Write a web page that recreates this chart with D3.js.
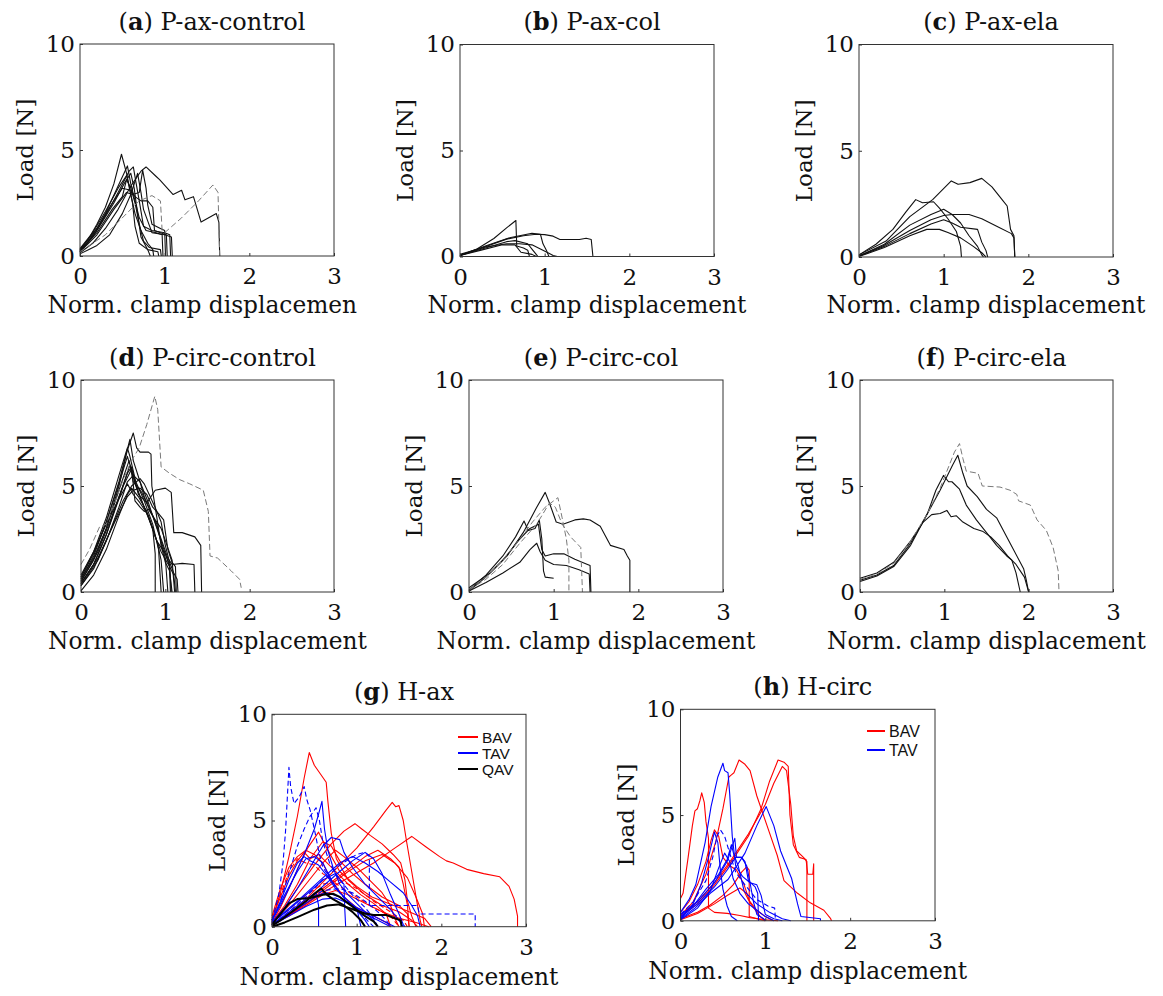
<!DOCTYPE html>
<html><head><meta charset="utf-8">
<script src="https://cdn.jsdelivr.net/npm/d3@7"></script>
<style>body{margin:0;background:#fff}</style>
</head><body>
<svg id="chart" width="1163" height="996"></svg>
<script>
// ---------- data (x = norm. clamp displacement, y = load [N]) ----------
const xTicks = [0, 1, 2, 3];
const yTicks = [0, 5, 10];

const aSolid = [
 [[0,0.3],[0.1,0.8],[0.2,1.5],[0.3,2.3],[0.4,3.4],[0.49,4.8],[0.55,3.9],[0.6,2.9],[0.65,2.0],[0.72,1.2],[0.8,0.6],[0.86,0.3],[0.87,0]],
 [[0,0.25],[0.1,0.7],[0.2,1.3],[0.3,2.0],[0.45,3.3],[0.56,4.25],[0.6,3.4],[0.65,2.6],[0.7,1.8],[0.78,1.2],[0.9,1.1],[0.97,1.0],[0.98,0]],
 [[0,0.2],[0.15,0.9],[0.3,1.9],[0.45,3.0],[0.58,4.0],[0.63,4.2],[0.66,3.5],[0.7,2.6],[0.75,1.4],[0.85,1.2],[1.0,1.1],[1.06,1.0],[1.07,0]],
 [[0,0.15],[0.15,0.6],[0.3,1.3],[0.45,2.2],[0.6,3.3],[0.72,4.0],[0.78,4.2],[0.9,3.75],[0.94,3.6],[1.02,3.25],[1.1,2.9],[1.2,3.1],[1.24,2.65],[1.34,2.8],[1.43,1.6],[1.61,2.0],[1.64,1.6],[1.65,0]],
 [[0,0.1],[0.1,0.3],[0.2,0.5],[0.35,1.0],[0.5,2.0],[0.6,2.9],[0.68,3.9],[0.72,3.0],[0.75,2.2],[0.85,1.1],[1.0,1.0],[1.08,0.9],[1.09,0]],
 [[0,0.35],[0.15,1.1],[0.3,2.1],[0.45,3.2],[0.55,3.8],[0.58,3.3],[0.62,2.5],[0.65,1.4],[0.7,0.6],[0.8,0.3],[0.83,0]],
 [[0,0.2],[0.2,1.2],[0.4,2.5],[0.52,3.4],[0.6,3.9],[0.64,3.2],[0.68,2.0],[0.72,0.9],[0.8,0.3],[0.92,0.2],[0.93,0]],
 [[0,0.3],[0.2,1.3],[0.35,2.3],[0.5,3.2],[0.6,3.1],[0.65,2.8],[0.72,2.6],[0.8,2.6],[0.86,2.3],[0.88,1.2],[0.95,1.1],[1.02,1.0],[1.03,0]],
 [[0,0.2],[0.2,1.0],[0.4,2.2],[0.55,3.0],[0.62,2.9],[0.7,3.0],[0.74,4.05],[0.78,3.2],[0.8,2.4],[0.85,1.5],[0.95,1.3],[1.0,1.2],[1.01,0]],
 [[0,0.25],[0.2,1.1],[0.38,2.2],[0.5,2.8],[0.55,3.6],[0.6,3.2],[0.65,2.5],[0.7,1.5],[0.75,0.7],[0.82,0.4],[0.95,0.3],[0.96,0]]
];
const aDashed = [
 [[0,0.2],[0.3,1.0],[0.55,2.0],[0.7,2.6],[0.85,2.85],[0.95,2.6],[0.97,1.2],[1.0,1.1],[1.2,1.8],[1.4,2.6],[1.57,3.35],[1.63,3.0],[1.65,0]]
];

const bSolid = [
 [[0,0.05],[0.2,0.35],[0.4,0.85],[0.55,1.35],[0.66,1.7],[0.67,0.5],[0.75,0.4],[0.8,0.3],[0.82,0]],
 [[0,0.05],[0.24,0.38],[0.55,0.82],[0.75,0.98],[0.9,1.05],[1.0,1.03],[1.1,0.96],[1.18,0.8],[1.41,0.8],[1.49,0.86],[1.55,0.8],[1.57,0]],
 [[0,0.05],[0.3,0.5],[0.6,0.9],[0.85,1.1],[0.95,1.05],[0.98,0.6],[1.02,0.3],[1.05,0]],
 [[0,0.05],[0.3,0.4],[0.55,0.7],[0.65,0.75],[0.8,0.6],[0.85,0.35],[0.9,0.1],[0.92,0]],
 [[0,0.1],[0.3,0.45],[0.55,0.6],[0.7,0.6],[0.85,0.55],[0.95,0.35],[1.05,0.15],[1.1,0.05],[1.15,0]],
 [[0,0.05],[0.25,0.3],[0.5,0.55],[0.65,0.55],[0.72,0.2],[0.85,0.1],[0.9,0]]
];

const cSolid = [
 [[0,0.1],[0.32,0.75],[0.6,1.9],[0.87,2.7],[1.09,3.58],[1.17,3.42],[1.31,3.5],[1.45,3.7],[1.57,3.3],[1.69,2.7],[1.75,2.4],[1.79,1.3],[1.83,1.0],[1.84,0]],
 [[0,0.1],[0.2,0.6],[0.4,1.3],[0.55,2.1],[0.67,2.7],[0.75,2.55],[0.88,2.6],[0.95,2.3],[1.05,1.8],[1.15,1.2],[1.2,0.5],[1.21,0]],
 [[0,0.05],[0.3,0.6],[0.6,1.5],[0.85,2.0],[1.0,2.25],[1.1,2.0],[1.2,1.6],[1.3,1.0],[1.4,0.5],[1.45,0.1],[1.47,0]],
 [[0,0.05],[0.3,0.55],[0.6,1.25],[0.85,1.75],[1.0,1.95],[1.1,2.0],[1.3,2.0],[1.45,1.8],[1.65,1.4],[1.8,1.1],[1.83,0.9],[1.84,0]],
 [[0,0.05],[0.3,0.5],[0.6,1.1],[0.85,1.55],[1.0,1.75],[1.1,1.6],[1.2,1.4],[1.4,1.3],[1.45,0.7],[1.5,0.3],[1.52,0]],
 [[0,0.02],[0.3,0.45],[0.6,1.0],[0.8,1.3],[0.95,1.3],[1.05,1.15],[1.2,0.9],[1.35,0.5],[1.45,0.2],[1.5,0]]
];

const dSolid = [
 [[0,0.5],[0.15,1.5],[0.3,3.0],[0.45,5.0],[0.55,6.7],[0.62,7.5],[0.66,6.8],[0.7,6.6],[0.8,6.6],[0.83,6.5],[0.84,5.0],[0.9,3.5],[0.95,2.2],[1.0,1.4],[1.05,1.0],[1.08,0]],
 [[0,0.4],[0.15,1.3],[0.3,2.7],[0.45,4.5],[0.55,5.6],[0.6,5.9],[0.68,4.6],[0.78,4.2],[0.88,4.8],[1.0,4.9],[1.07,4.7],[1.1,2.8],[1.2,2.8],[1.35,2.6],[1.42,2.2],[1.43,0]],
 [[0,0.3],[0.15,1.1],[0.3,2.4],[0.45,4.0],[0.55,5.2],[0.62,5.5],[0.7,5.2],[0.75,4.5],[0.85,3.6],[0.95,2.5],[1.03,1.6],[1.08,1.3],[1.2,1.35],[1.34,1.3],[1.35,0]],
 [[0,0.6],[0.15,1.7],[0.3,3.3],[0.45,5.2],[0.58,7.2],[0.62,6.2],[0.7,5.2],[0.8,4.2],[0.9,3.0],[1.0,1.8],[1.05,1.2],[1.1,0.8],[1.12,0]],
 [[0,0.7],[0.15,1.8],[0.3,3.3],[0.45,5.1],[0.55,6.4],[0.6,5.7],[0.7,4.5],[0.8,3.5],[0.9,2.4],[0.95,1.5],[0.97,0.5],[0.98,0]],
 [[0,0.4],[0.15,1.3],[0.3,2.7],[0.45,4.4],[0.58,6.0],[0.65,5.0],[0.75,4.0],[0.85,3.0],[0.88,1.8],[0.88,0]],
 [[0,0.5],[0.2,1.9],[0.35,3.4],[0.5,5.0],[0.6,5.8],[0.64,4.3],[0.7,4.0],[0.75,3.8],[0.8,3.9],[0.88,3.4],[0.95,3.0],[1.02,2.2],[1.08,1.5],[1.1,0.5],[1.11,0]],
 [[0,0.3],[0.2,1.5],[0.35,2.9],[0.5,4.3],[0.6,5.0],[0.7,5.35],[0.75,5.1],[0.82,4.5],[0.9,3.8],[0.95,3.3],[1.0,2.2],[1.05,1.4],[1.1,0.9],[1.14,0.6],[1.15,0]],
 [[0,0.8],[0.15,1.9],[0.3,3.2],[0.45,4.4],[0.55,5.1],[0.62,4.6],[0.7,4.2],[0.8,3.6],[0.9,2.4],[1.0,1.8],[1.05,1.3],[1.07,0]],
 [[0,0.05],[0.15,0.8],[0.3,2.0],[0.45,3.6],[0.55,4.6],[0.6,4.9],[0.68,4.5],[0.78,3.8],[0.88,2.6],[0.95,1.9],[1.02,1.4],[1.05,1.2],[1.06,0]],
 [[0,0.6],[0.15,1.6],[0.3,3.0],[0.45,4.8],[0.57,6.2],[0.62,5.2],[0.72,4.7],[0.8,4.0],[0.9,3.2],[0.95,2.3],[1.0,1.6],[1.03,0]],
 [[0,0.4],[0.2,1.6],[0.4,3.3],[0.55,4.5],[0.62,4.8],[0.7,4.9],[0.78,4.6],[0.85,4.0],[0.92,3.7],[0.98,3.4],[1.03,2.0],[1.08,1.4],[1.12,1.2],[1.13,0]],
 [[0,0.7],[0.15,1.9],[0.3,3.5],[0.45,5.5],[0.55,6.8],[0.58,6.4],[0.65,5.2],[0.75,4.3],[0.85,3.2],[0.92,2.0],[0.95,0]]
];
const dDashed = [
 [[0,1.3],[0.1,2.0],[0.22,3.07],[0.3,3.2],[0.4,4.2],[0.5,5.3],[0.6,6.2],[0.69,6.8],[0.78,7.9],[0.875,9.23],[0.91,8.6],[0.95,5.9],[1.05,5.6],[1.17,5.3],[1.29,5.1],[1.45,4.8],[1.51,3.8],[1.53,1.7],[1.62,1.6],[1.78,1.0],[1.88,0.6],[1.9,0.2]]
];

const eSolid = [
 [[0,0.2],[0.25,0.9],[0.45,1.7],[0.64,2.8],[0.8,4.0],[0.9,4.7],[0.95,4.2],[1.03,3.3],[1.11,3.2],[1.25,3.4],[1.35,3.45],[1.43,3.4],[1.55,3.1],[1.67,2.2],[1.83,2.0],[1.87,1.7],[1.9,1.5],[1.9,0]],
 [[0,0.1],[0.2,0.8],[0.4,1.7],[0.55,2.6],[0.65,3.35],[0.7,2.9],[0.78,3.0],[0.83,3.4],[0.86,2.5],[0.88,1.0],[0.9,0.7],[1.0,0.65]],
 [[0,0.05],[0.2,0.7],[0.4,1.5],[0.6,2.5],[0.72,3.0],[0.82,3.2],[0.86,2.0],[0.9,1.7],[1.0,1.8],[1.12,1.8],[1.25,1.55],[1.4,1.3],[1.43,1.25],[1.44,0]],
 [[0,0.05],[0.2,0.45],[0.4,0.9],[0.6,1.4],[0.72,2.0],[0.8,2.3],[0.84,1.9],[0.9,1.5],[1.0,1.3],[1.15,1.25],[1.3,1.05],[1.42,0.85],[1.43,0]]
];
const eDashed = [
 [[0,0.15],[0.2,0.7],[0.4,1.5],[0.6,2.5],[0.75,3.3],[0.9,4.0],[1.0,4.3],[1.05,4.45],[1.1,3.5],[1.15,2.5],[1.18,1.5],[1.18,0]],
 [[0,0.1],[0.2,0.6],[0.4,1.3],[0.6,2.3],[0.8,3.2],[0.95,4.2],[1.02,4.0],[1.1,3.2],[1.2,2.6],[1.32,2.1],[1.34,0]]
];

const fSolid = [
 [[0,0.55],[0.2,0.8],[0.4,1.25],[0.6,2.3],[0.8,3.7],[0.95,4.8],[1.05,5.6],[1.1,6.0],[1.16,6.45],[1.22,5.6],[1.27,5.0],[1.39,4.5],[1.5,3.9],[1.62,3.5],[1.78,2.3],[1.94,1.1],[1.97,0.6],[2.0,0]],
 [[0,0.5],[0.2,0.75],[0.4,1.2],[0.6,2.2],[0.8,3.7],[0.9,4.8],[0.99,5.5],[1.05,5.2],[1.09,5.2],[1.18,4.85],[1.26,4.1],[1.38,3.4],[1.5,2.8],[1.62,2.2],[1.74,1.7],[1.8,1.5],[1.85,0.9],[1.9,0]],
 [[0,0.65],[0.2,0.9],[0.4,1.4],[0.6,2.4],[0.75,3.3],[0.85,3.65],[0.95,3.7],[1.03,3.85],[1.08,3.55],[1.14,3.6],[1.22,3.3],[1.35,3.0],[1.46,2.85],[1.55,2.6],[1.65,2.2],[1.75,1.7],[1.85,1.3],[1.95,0.7],[2.0,0]]
];
const fDashed = [
 [[0,0.6],[0.2,0.85],[0.4,1.35],[0.6,2.4],[0.8,3.7],[0.95,4.9],[1.05,5.9],[1.12,6.6],[1.18,7.0],[1.22,6.3],[1.26,5.7],[1.4,5.6],[1.45,5.0],[1.66,4.95],[1.78,4.8],[1.86,4.6],[1.88,4.3],[2.02,4.1],[2.1,3.4],[2.21,2.9],[2.29,2.1],[2.35,1.0],[2.36,0]]
];

const gBAV = [
 [[0,0.3],[0.1,1.6],[0.2,3.3],[0.3,5.2],[0.38,7.0],[0.44,8.2],[0.5,7.6],[0.57,7.2],[0.64,6.8],[0.66,5.9],[0.7,4.4],[0.76,3.2],[0.9,2.2],[1.1,1.5],[1.3,1.0],[1.5,0.7],[1.65,0.3],[1.72,0]],
 [[0,0.1],[0.2,0.6],[0.4,1.3],[0.6,2.1],[0.8,2.9],[1.0,3.7],[1.2,4.7],[1.35,5.5],[1.42,5.85],[1.46,5.65],[1.5,5.7],[1.55,5.0],[1.59,4.0],[1.65,2.6],[1.71,1.2],[1.75,0.3],[1.77,0]],
 [[0,0.2],[0.15,0.9],[0.3,1.8],[0.5,2.9],[0.7,3.9],[0.85,4.5],[0.98,4.85],[1.06,4.6],[1.16,4.3],[1.3,3.9],[1.43,3.4],[1.52,3.0],[1.57,2.2],[1.6,1.2],[1.65,0.5],[1.7,0]],
 [[0,0.05],[0.3,0.8],[0.6,1.6],[0.9,2.3],[1.2,3.0],[1.45,3.7],[1.65,4.25],[1.82,3.75],[1.98,3.3],[2.06,3.1],[2.14,3.0],[2.3,2.7],[2.5,2.5],[2.69,2.35],[2.8,1.9],[2.86,1.3],[2.9,0.5],[2.9,0]],
 [[0,0.2],[0.1,0.9],[0.2,1.8],[0.3,2.7],[0.42,3.7],[0.55,4.45],[0.62,3.9],[0.8,2.6],[1.0,1.9],[1.18,1.4],[1.5,0.9],[1.8,0.4],[1.88,0]],
 [[0,0.2],[0.15,1.0],[0.3,2.0],[0.45,3.2],[0.6,4.0],[0.7,3.8],[0.8,3.1],[0.95,2.5],[1.1,2.0],[1.3,1.4],[1.5,1.0],[1.6,0.6],[1.62,0]],
 [[0,0.4],[0.1,1.4],[0.2,2.4],[0.3,3.1],[0.38,3.5],[0.45,3.2],[0.55,3.4],[0.65,3.0],[0.75,2.6],[0.9,2.0],[1.05,1.5],[1.2,1.1],[1.35,0.6],[1.4,0]],
 [[0,0.2],[0.2,1.0],[0.4,2.0],[0.6,3.0],[0.75,3.6],[0.85,3.3],[1.0,2.8],[1.15,2.2],[1.3,1.6],[1.4,1.0],[1.45,0.4],[1.5,0]],
 [[0,0.1],[0.3,0.9],[0.6,1.8],[0.9,2.7],[1.1,3.3],[1.25,3.6],[1.4,3.2],[1.5,2.8],[1.55,2.0],[1.6,1.0],[1.62,0]],
 [[0,0.1],[0.3,0.8],[0.6,1.7],[0.9,2.6],[1.1,3.1],[1.3,3.4],[1.45,3.0],[1.6,2.3],[1.7,1.4],[1.78,0.6],[1.8,0]],
 [[0,0.1],[0.2,0.5],[0.4,1.0],[0.6,1.5],[0.75,1.7],[0.9,1.5],[1.1,1.1],[1.3,0.7],[1.5,0.4],[1.7,0.2],[1.85,0]],
 [[0,0.5],[0.1,1.8],[0.2,2.8],[0.3,3.3],[0.4,3.6],[0.5,3.4],[0.6,3.0],[0.7,2.2],[0.85,1.4],[1.0,0.9],[1.2,0.5],[1.35,0.2],[1.4,0]]
];
const gBAVdash = [
 [[0,0.3],[0.1,1.5],[0.2,2.6],[0.3,3.2],[0.4,3.0],[0.5,2.9],[0.6,2.5],[0.8,1.9],[1.0,1.4],[1.2,0.9],[1.4,0.5],[1.5,0]],
 [[0,0.2],[0.2,0.8],[0.4,1.5],[0.6,2.0],[0.8,2.2],[1.0,1.8],[1.2,1.2],[1.4,0.7],[1.55,0.3],[1.6,0]]
];
const gTAV = [
 [[0,0.3],[0.1,1.0],[0.2,1.8],[0.3,2.7],[0.4,3.6],[0.5,4.6],[0.55,5.3],[0.59,5.9],[0.62,4.6],[0.66,3.6],[0.72,2.8],[0.8,2.0],[0.9,1.5],[1.0,1.1],[1.1,0.7],[1.2,0.3],[1.25,0]],
 [[0,0.2],[0.15,0.9],[0.3,1.8],[0.45,2.8],[0.6,3.8],[0.7,4.2],[0.8,4.1],[0.85,3.5],[0.95,2.8],[1.1,2.0],[1.25,1.4],[1.4,0.8],[1.5,0.3],[1.55,0]],
 [[0,0.1],[0.2,0.6],[0.4,1.2],[0.6,1.9],[0.8,2.6],[0.95,3.1],[1.1,3.5],[1.2,3.2],[1.3,2.5],[1.4,1.5],[1.5,0.6],[1.55,0.1],[1.57,0]],
 [[0,0.3],[0.1,1.2],[0.2,2.2],[0.3,3.0],[0.38,3.3],[0.45,3.1],[0.55,2.9],[0.65,2.4],[0.75,1.8],[0.9,1.2],[1.0,0.8],[1.1,0.3],[1.15,0]],
 [[0,0.2],[0.3,1.2],[0.6,2.3],[0.8,3.0],[0.95,3.3],[1.1,3.0],[1.25,2.6],[1.4,2.1],[1.55,1.6],[1.65,1.0],[1.72,0.5],[1.75,0]],
 [[0,0.1],[0.2,0.6],[0.4,1.1],[0.55,1.5],[0.65,1.6],[0.8,1.4],[0.95,1.0],[1.1,0.6],[1.25,0.3],[1.4,0]],
 [[0,0.05],[0.2,0.5],[0.4,0.95],[0.6,1.3],[0.75,1.35],[0.9,1.1],[1.05,0.8],[1.2,0.5],[1.35,0.2],[1.45,0]],
 [[0,0.1],[0.2,0.7],[0.4,1.3],[0.52,1.6],[0.55,1.0],[0.55,0]],
 [[0,0.2],[0.2,0.8],[0.4,1.5],[0.6,2.2],[0.75,2.5],[0.85,2.0],[0.86,0.8],[0.87,0]],
 [[0,0.3],[0.15,1.5],[0.3,2.6],[0.4,3.2],[0.5,3.3],[0.6,3.0],[0.7,2.2],[0.8,1.6],[0.9,1.2],[1.0,0.9],[1.05,0]]
];
const gTAVdash = [
 [[0,0.3],[0.08,1.5],[0.13,3.0],[0.16,4.5],[0.18,6.0],[0.2,7.5],[0.22,6.6],[0.26,5.8],[0.32,6.1],[0.38,6.6],[0.41,6.0],[0.45,5.5],[0.5,4.6],[0.55,3.6],[0.6,2.8],[0.7,2.2],[0.8,1.6],[0.95,0.9],[1.1,0.4],[1.2,0]],
 [[0,0.2],[0.1,1.2],[0.2,2.5],[0.3,3.8],[0.38,4.6],[0.45,5.2],[0.52,5.6],[0.56,5.0],[0.6,4.0],[0.68,3.0],[0.8,2.2],[0.95,1.5],[1.1,0.9],[1.2,0.4],[1.25,0]],
 [[0,0.1],[0.2,0.7],[0.4,1.4],[0.6,2.2],[0.8,2.9],[1.0,3.4],[1.1,3.5],[1.15,3.3],[1.15,1.0],[1.72,1.0],[1.74,0.6],[2.4,0.6],[2.4,0]],
 [[0,0.1],[0.2,0.6],[0.4,1.2],[0.6,1.7],[0.8,1.8],[0.95,1.6],[1.1,1.2],[1.25,0.7],[1.35,0.3],[1.4,0]]
];
const gQAV = [
 [[0,0.05],[0.1,0.3],[0.2,0.6],[0.3,0.9],[0.4,1.2],[0.5,1.55],[0.58,1.8],[0.65,1.5],[0.72,1.3],[0.85,1.0],[0.95,0.7],[1.05,0.3],[1.1,0]],
 [[0,0.1],[0.1,0.6],[0.2,1.1],[0.3,1.3],[0.45,1.35],[0.6,1.5],[0.72,1.55],[0.8,1.4],[0.9,1.1],[1.0,0.8],[1.1,0.5],[1.2,0.25],[1.25,0]],
 [[0,0],[0.15,0.2],[0.3,0.45],[0.5,0.8],[0.65,1.0],[0.78,1.05],[0.9,0.9],[1.0,0.75],[1.1,0.62],[1.2,0.55],[1.35,0.55],[1.45,0.4],[1.52,0.3],[1.53,0]]
];

const hBAV = [
 [[0,1.05],[0.03,1.3],[0.09,3.0],[0.14,4.5],[0.17,5.2],[0.2,5.3],[0.23,5.7],[0.25,6.05],[0.28,5.6],[0.3,4.7],[0.33,3.9],[0.33,0.6],[0.4,0.4],[0.55,0.35],[0.7,0.25],[0.82,0.15],[1.0,0.05],[1.15,0]],
 [[0,0.25],[0.15,0.9],[0.3,2.2],[0.42,3.8],[0.5,5.3],[0.57,6.8],[0.6,6.9],[0.63,7.0],[0.69,7.6],[0.76,7.4],[0.82,7.1],[0.9,5.9],[1.02,4.5],[1.14,3.1],[1.22,1.9],[1.38,1.3],[1.53,0.85],[1.69,0.5],[1.77,0.1],[1.78,0]],
 [[0,0.2],[0.2,0.8],[0.4,1.7],[0.6,2.8],[0.8,4.0],[0.95,5.3],[1.05,6.6],[1.15,7.6],[1.22,7.5],[1.27,7.3],[1.29,5.0],[1.33,3.6],[1.4,3.0],[1.48,2.9],[1.5,2.2],[1.56,2.2],[1.57,2.7],[1.57,0]],
 [[0,0.3],[0.2,0.9],[0.4,1.8],[0.6,2.9],[0.8,4.1],[1.0,5.5],[1.1,6.5],[1.2,7.3],[1.25,7.1],[1.3,5.5],[1.33,4.0],[1.37,3.3],[1.45,3.0],[1.49,2.8],[1.49,0]],
 [[0,0.4],[0.1,0.9],[0.2,1.7],[0.3,2.8],[0.36,3.8],[0.4,4.3],[0.45,4.0],[0.5,3.0],[0.58,2.6],[0.66,2.4],[0.75,1.7],[0.82,0.85],[0.94,0.2],[1.0,0]],
 [[0,0.1],[0.2,0.4],[0.35,0.75],[0.5,1.2],[0.62,1.7],[0.72,2.3],[0.78,2.55],[0.81,2.4],[0.81,0.2],[0.9,0.1],[1.0,0]],
 [[0,0.05],[0.2,0.35],[0.4,0.8],[0.55,1.2],[0.7,1.55],[0.75,1.4],[0.8,1.0],[0.9,0.5],[1.0,0.2],[1.1,0]]
];
const hTAV = [
 [[0,0.4],[0.1,1.0],[0.18,1.7],[0.29,3.7],[0.36,5.4],[0.44,6.8],[0.5,7.45],[0.52,7.1],[0.56,7.0],[0.58,6.0],[0.61,4.0],[0.65,2.6],[0.73,2.1],[0.82,1.8],[0.86,0.9],[0.9,0.3],[0.98,0.1],[1.0,0]],
 [[0,0.1],[0.17,0.6],[0.35,1.3],[0.56,1.95],[0.76,3.2],[0.9,4.5],[1.01,5.4],[1.1,4.5],[1.18,3.3],[1.26,2.5],[1.31,2.0],[1.38,0.8],[1.42,0.2],[1.65,0.1],[1.65,0]],
 [[0,0.1],[0.15,0.8],[0.25,1.8],[0.33,3.0],[0.4,4.2],[0.44,3.7],[0.47,2.4],[0.5,1.5],[0.55,0.7],[0.6,0.2],[0.67,0]],
 [[0,0.2],[0.2,0.9],[0.4,1.8],[0.55,2.8],[0.64,3.9],[0.66,3.0],[0.72,3.0],[0.76,2.8],[0.8,1.9],[0.88,1.6],[0.91,1.3],[0.92,0]],
 [[0,0.15],[0.2,0.8],[0.4,1.6],[0.55,2.4],[0.65,3.0],[0.72,3.0],[0.78,2.6],[0.82,1.8],[0.9,1.7],[0.95,1.2],[1.0,0.3],[1.1,0.1],[1.2,0]],
 [[0,0.05],[0.2,0.6],[0.35,1.4],[0.45,2.5],[0.52,3.2],[0.58,2.8],[0.62,2.0],[0.7,1.3],[0.8,0.8],[0.9,0.5],[1.0,0.2],[1.1,0]],
 [[0,0.3],[0.15,0.7],[0.3,1.5],[0.45,2.2],[0.55,2.9],[0.6,3.6],[0.63,3.1],[0.68,2.6],[0.75,1.4],[0.9,0.8],[1.05,0.4],[1.2,0.1],[1.3,0]]
];
const hTAVdash = [
 [[0,0.3],[0.15,0.9],[0.3,1.9],[0.38,3.0],[0.43,4.0],[0.47,4.3],[0.52,4.0],[0.58,3.2],[0.65,2.3],[0.76,1.7],[0.9,1.0],[1.03,0.7],[1.11,0.6],[1.12,0]]
];

const gLegend = ["BAV", "TAV", "QAV"];
const hLegend = ["BAV", "TAV"];

// ---------- styles ----------
const RED = "#ff0000", BLUE = "#0000ff", BLACK = "#000000", GREY = "#7a7a7a";
const SERIF = "'DejaVu Serif', serif";
const SANS = "'Liberation Sans', Arial, sans-serif";

function blackSet(solid, dashed) {
  return [
    {data: solid, color: "#111", width: 1.1},
    {data: dashed || [], color: GREY, width: 1, dash: "6,3"}
  ];
}

const panels = [
  {id: "a", name: "P-ax-control", box: [80, 44, 334, 256], series: blackSet(aSolid, aDashed), titleY: 30, xlabY: 313, clipX: 357},
  {id: "b", name: "P-ax-col", box: [460, 44.5, 714, 256.5], series: blackSet(bSolid), titleY: 30, xlabY: 313},
  {id: "c", name: "P-ax-ela", box: [859, 44.5, 1113, 257], series: blackSet(cSolid), titleY: 30, xlabY: 313},
  {id: "d", name: "P-circ-control", box: [81, 380, 334, 592], series: blackSet(dSolid, dDashed), titleY: 366, xlabY: 649},
  {id: "e", name: "P-circ-col", box: [469, 380, 723, 592], series: blackSet(eSolid, eDashed), titleY: 366, xlabY: 649},
  {id: "f", name: "P-circ-ela", box: [860, 380, 1113, 592], series: blackSet(fSolid, fDashed), titleY: 366, xlabY: 649},
  {id: "g", name: "H-ax", box: [272, 714.3, 526, 926.7], titleY: 700, xlabY: 985,
   series: [
     {data: gBAV, color: RED, width: 1.1}, {data: gBAVdash, color: RED, width: 1.1, dash: "5,3"},
     {data: gTAV, color: BLUE, width: 1.1}, {data: gTAVdash, color: BLUE, width: 1.1, dash: "5,3"},
     {data: gQAV, color: BLACK, width: 2}
   ],
   legend: {items: gLegend, colors: [RED, BLUE, BLACK], x0: 458, x1: 478, tx: 482, y: 737, dy: 16, fs: 15.5}},
  {id: "h", name: "H-circ", box: [680.5, 709.3, 935, 920.8], titleY: 695, xlabY: 979,
   series: [
     {data: hBAV, color: RED, width: 1.1},
     {data: hTAV, color: BLUE, width: 1.1}, {data: hTAVdash, color: BLUE, width: 1.1, dash: "5,3"}
   ],
   legend: {items: hLegend, colors: [RED, BLUE], x0: 867, x1: 885, tx: 889, y: 731, dy: 19, fs: 16}}
];

const svg = d3.select("#chart");
const defs = svg.append("defs");

panels.forEach(p => {
  const [x0, y0, x1, y1] = p.box;
  const x = d3.scaleLinear().domain([0, 3]).range([x0, x1]);
  const y = d3.scaleLinear().domain([0, 10]).range([y1, y0]);
  const g = svg.append("g").attr("class", "panel-" + p.id);
  const line = d3.line().x(d => x(d[0])).y(d => y(d[1]));

  p.series.forEach(s => {
    g.append("g").selectAll("path").data(s.data).join("path")
      .attr("d", line).attr("fill", "none")
      .attr("stroke", s.color).attr("stroke-width", s.width)
      .attr("stroke-linejoin", "round")
      .attr("stroke-dasharray", s.dash || null);
  });

  // axes
  const xa = g.append("g").attr("transform", `translate(0,${y1})`)
    .call(d3.axisBottom(x).tickValues(xTicks).tickFormat(d3.format("d")).tickSizeInner(-3).tickSizeOuter(0).tickPadding(12));
  const ya = g.append("g").attr("transform", `translate(${x0},0)`)
    .call(d3.axisLeft(y).tickValues(yTicks).tickFormat(d3.format("d")).tickSizeInner(-3).tickSizeOuter(0).tickPadding(5));
  [xa, ya].forEach(a => {
    a.select(".domain").remove();
    a.selectAll("line").attr("stroke", "#333");
    a.selectAll("text").attr("font-family", SERIF).attr("font-size", 23).attr("fill", "#111");
  });
  g.append("rect").attr("x", x0).attr("y", y0).attr("width", x1 - x0).attr("height", y1 - y0)
    .attr("fill", "none").attr("stroke", "#333").attr("stroke-width", 1);

  // title
  const cx = (x0 + x1) / 2 + 5;
  const t = g.append("text").attr("x", cx).attr("y", p.titleY).attr("text-anchor", "middle")
    .attr("font-family", SERIF).attr("font-size", 24).attr("fill", "#111");
  t.append("tspan").text("(");
  t.append("tspan").attr("font-weight", "bold").text(p.id);
  t.append("tspan").text(") " + p.name);

  // y label
  g.append("text").attr("transform", `translate(${x0 - 47},${(y0 + y1) / 2}) rotate(-90)`)
    .attr("text-anchor", "middle").attr("font-family", SERIF).attr("font-size", 23).attr("fill", "#111")
    .text("Load [N]");

  // x label
  const xl = g.append("text").attr("x", (x0 + x1) / 2).attr("y", p.xlabY).attr("text-anchor", "middle")
    .attr("font-family", SERIF).attr("font-size", 23.3).attr("fill", "#111")
    .text("Norm. clamp displacement");
  if (p.clipX) {
    defs.append("clipPath").attr("id", "clip-" + p.id)
      .append("rect").attr("x", 0).attr("y", 0).attr("width", p.clipX).attr("height", 996);
    xl.attr("clip-path", `url(#clip-${p.id})`);
  }

  // legend
  if (p.legend) {
    const L = p.legend;
    L.items.forEach((name, i) => {
      const yy = L.y + i * L.dy;
      g.append("line").attr("x1", L.x0).attr("x2", L.x1).attr("y1", yy).attr("y2", yy)
        .attr("stroke", L.colors[i]).attr("stroke-width", 2);
      g.append("text").attr("x", L.tx).attr("y", yy + 5.5).attr("font-family", SANS)
        .attr("font-size", L.fs).attr("fill", "#111").text(name);
    });
  }
});
</script>
</body></html>
